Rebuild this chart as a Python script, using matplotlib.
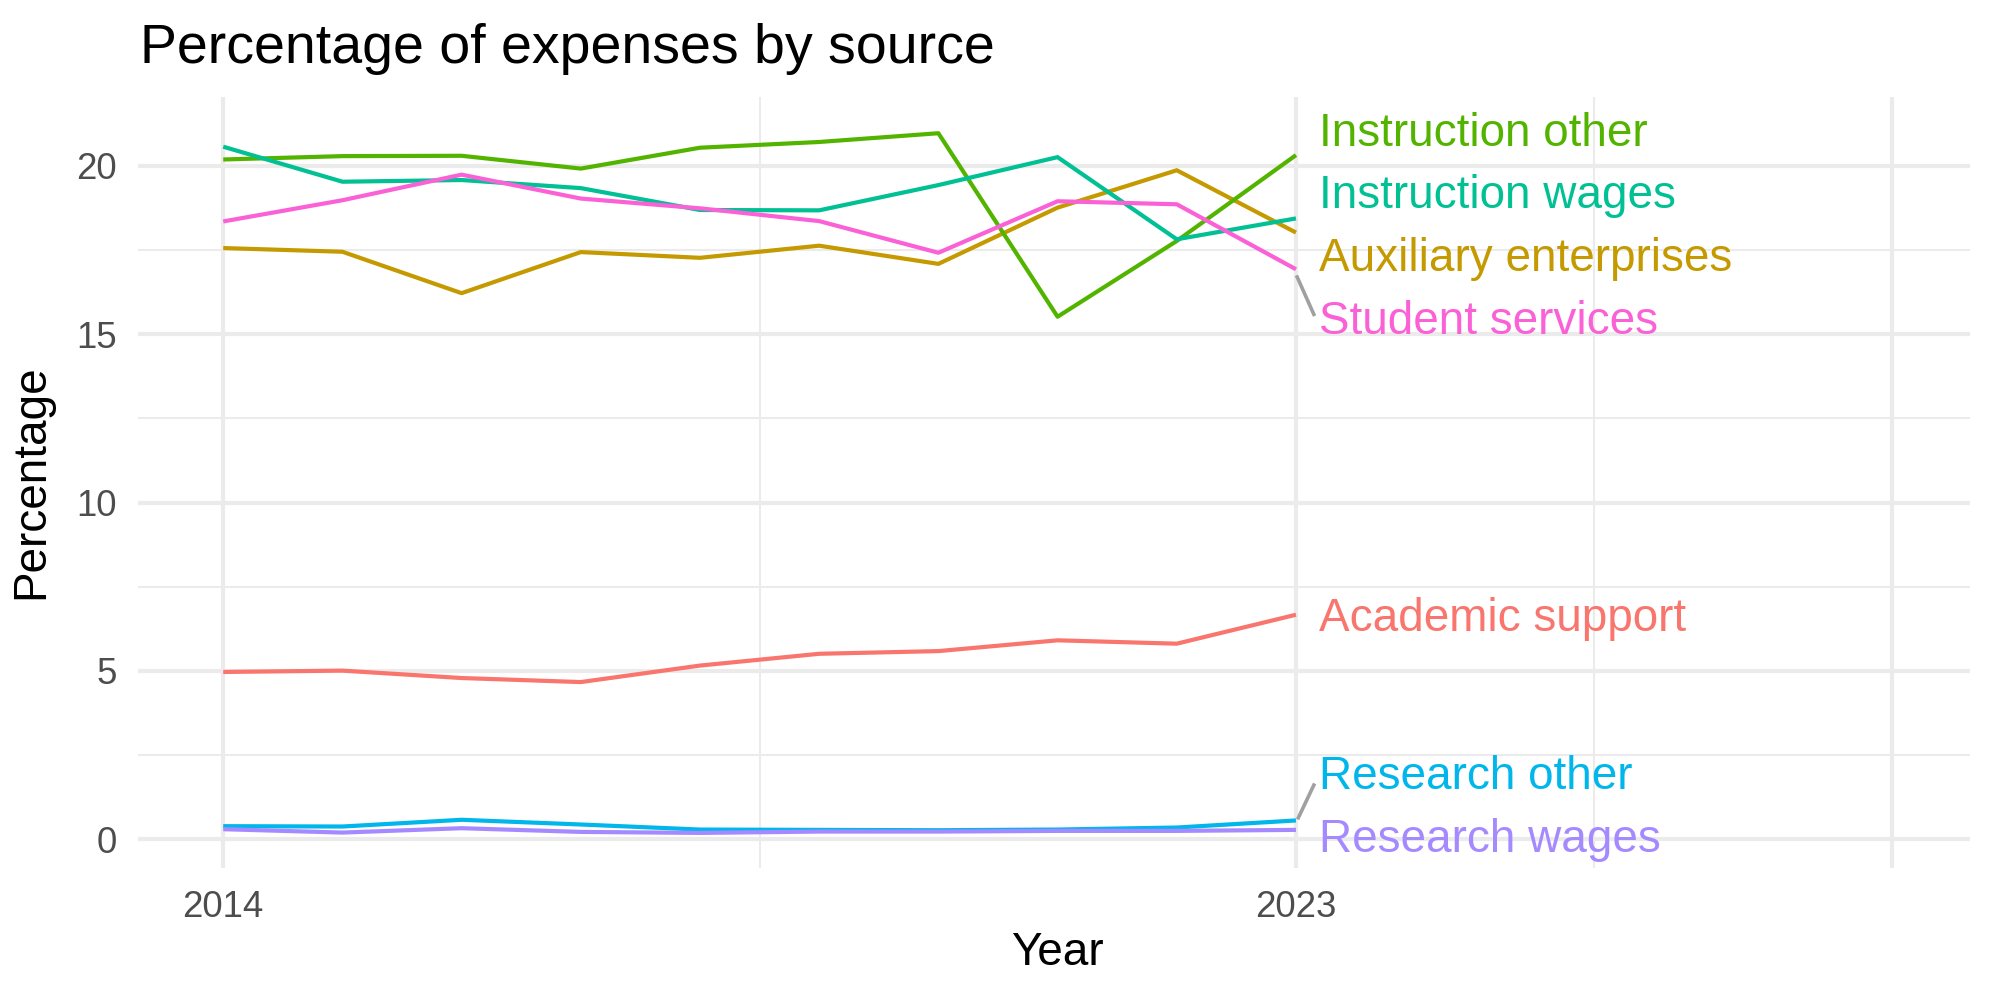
import matplotlib
matplotlib.use('Agg')
import matplotlib.pyplot as plt

plt.rcParams['font.family'] = ['Liberation Sans', 'DejaVu Sans']

years = list(range(2014, 2024))

academic_support = [4.97, 5.01, 4.79, 4.67, 5.16, 5.51, 5.59, 5.91, 5.81, 6.67]
auxiliary_enterprises = [17.56, 17.45, 16.22, 17.44, 17.27, 17.63, 17.09, 18.76, 19.87, 18.02]
instruction_other = [20.19, 20.29, 20.30, 19.92, 20.54, 20.71, 20.97, 15.52, 17.77, 20.32]
instruction_wages = [20.57, 19.53, 19.58, 19.34, 18.69, 18.68, 19.43, 20.26, 17.82, 18.44]
research_other = [0.39, 0.38, 0.58, 0.44, 0.29, 0.28, 0.27, 0.29, 0.35, 0.56]
research_wages = [0.30, 0.20, 0.33, 0.22, 0.19, 0.23, 0.23, 0.25, 0.25, 0.28]
student_services = [18.35, 18.98, 19.74, 19.03, 18.74, 18.36, 17.42, 18.95, 18.86, 16.93]

series_names = ['Academic support', 'Auxiliary enterprises', 'Instruction other',
                'Instruction wages', 'Research other', 'Research wages', 'Student services']
series_values = [academic_support, auxiliary_enterprises, instruction_other,
                 instruction_wages, research_other, research_wages, student_services]
colors = ['#F8766D', '#C49A00', '#53B400', '#00C094', '#00B6EB', '#A58AFF', '#FB61D7']

# end labels (repelled positions, baseline y in data units)
label_y = [6.19, 16.89, 20.60, 18.74, 1.49, -0.37, 15.01]
label_x = 2023.19

fig = plt.figure(figsize=(10, 5), dpi=200)
ax = fig.add_axes([0.069, 0.132, 0.916, 0.771])

for name, vals, col in zip(series_names, series_values, colors):
    ax.plot(years, vals, color=col, lw=1.5, solid_capstyle='butt', zorder=3)

for name, ly, col in zip(series_names, label_y, colors):
    ax.text(label_x, ly, name, color=col, fontsize=16.5, ha='left', va='baseline', zorder=4)

# repel segments
ax.plot([2023.01, 2023.15], [16.70, 15.59], color='#A0A0A0', lw=1.3, zorder=2)
ax.plot([2023.02, 2023.15], [0.64, 1.61], color='#A0A0A0', lw=1.3, zorder=2)

ax.set_xlim(2013.285, 2028.655)
ax.set_ylim(-0.852, 22.046)

ax.set_xticks([2014, 2023, 2028])
ax.set_xticklabels(['2014', '2023', ''])
ax.set_xticks([2018.5, 2025.5], minor=True)
ax.set_yticks([0, 5, 10, 15, 20])
ax.set_yticklabels(['0', '5', '10', '15', '20'])
ax.set_yticks([2.5, 7.5, 12.5, 17.5], minor=True)

ax.grid(which='major', color='#EBEBEB', lw=1.5, zorder=0)
ax.grid(which='minor', color='#EBEBEB', lw=0.75, zorder=0)
ax.set_axisbelow(True)
for s in ax.spines.values():
    s.set_visible(False)
ax.tick_params(which='both', length=0, labelsize=13.2, labelcolor='#4D4D4D')
ax.tick_params(axis='y', pad=7.5)
ax.tick_params(axis='x', pad=8)

fig.text(0.07, 1 - 0.0627, 'Percentage of expenses by source', fontsize=20,
         ha='left', va='baseline')
fig.text(0.5285, 1 - 0.965, 'Year', fontsize=16.5, ha='center', va='baseline')
fig.text(0.0155, 1 - 0.482, 'Percentage', fontsize=16.5, rotation=90,
         ha='center', va='center')

fig.savefig('out.png', dpi=200)
